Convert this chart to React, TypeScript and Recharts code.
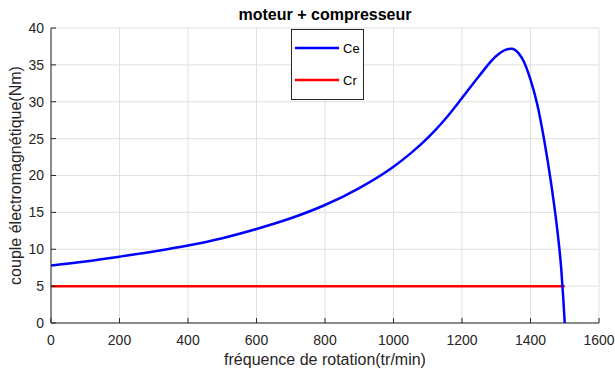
import { LineChart, Line, XAxis, YAxis, CartesianGrid, Label } from 'recharts';

// vitesse (tr/min) et couple moteur Ce (Nm)
const speed = [0, 100, 200, 300, 400, 500, 600, 700, 800, 900, 1000, 1050, 1100, 1150, 1200, 1250, 1300, 1325, 1345, 1365, 1380, 1400, 1420, 1440, 1460, 1480, 1490, 1495, 1500];
const ce = [7.8, 8.35, 9.0, 9.7, 10.5, 11.5, 12.75, 14.2, 16.0, 18.3, 21.2, 23.0, 25.1, 27.6, 30.5, 33.5, 36.2, 37.0, 37.2, 36.6, 35.5, 33.0, 29.6, 24.8, 19.0, 11.9, 7.2, 3.8, 0];

// couple résistant du compresseur Cr (Nm)
const crSpeed = [0, 1500];
const cr = [5, 5];

const xTicks = [0, 200, 400, 600, 800, 1000, 1200, 1400, 1600];
const yTicks = [0, 5, 10, 15, 20, 25, 30, 35, 40];

const seriesNames = ['Ce', 'Cr'];
const seriesColors = ['#0000ff', '#ff0000'];

const ceData = speed.map((n, i) => ({ n, Ce: ce[i] }));
const crData = crSpeed.map((n, i) => ({ n, Cr: cr[i] }));

const FONT = '"Liberation Sans", Arial, Helvetica, sans-serif';
const INK = '#262626';

const NoTick = () => <g />;

const XLabel = ({ viewBox }: any) => (
  <text
    x={viewBox.x + viewBox.width / 2}
    y={viewBox.y + 42}
    textAnchor="middle"
    fontFamily={FONT}
    fontSize={16}
    fill={INK}
  >
    fréquence de rotation(tr/min)
  </text>
);

const YLabel = ({ viewBox }: any) => {
  const cx = viewBox.x + 21;
  const cy = viewBox.y + viewBox.height / 2;
  return (
    <text
      x={cx}
      y={cy}
      transform={`rotate(-90, ${cx}, ${cy})`}
      textAnchor="middle"
      fontFamily={FONT}
      fontSize={16}
      fill={INK}
    >
      couple électromagnétique(Nm)
    </text>
  );
};

const LegendBox = () => (
  <div
    style={{
      position: 'absolute',
      left: 291,
      top: 29,
      width: 71,
      height: 69,
      border: `1px solid ${INK}`,
      background: '#fff',
    }}
  >
    <svg width={71} height={69} style={{ display: 'block' }}>
      {seriesNames.map((name, i) => (
        <g key={name}>
          <line x1={3} x2={47} y1={18 + i * 32} y2={18 + i * 32} stroke={seriesColors[i]} strokeWidth={2.5} />
          <text x={51} y={18 + i * 32 + 5} fontFamily={FONT} fontSize={13} fill="#000">
            {name}
          </text>
        </g>
      ))}
    </svg>
  </div>
);

export default function App() {
  return (
    <div style={{ position: 'absolute', left: 0, top: 0, width: 615, height: 371, background: '#fff', fontFamily: FONT }}>
      <div
        style={{
          position: 'absolute',
          left: 51,
          width: 548,
          top: 7,
          textAlign: 'center',
          fontSize: 16,
          lineHeight: '16px',
          fontWeight: 'bold',
          color: '#000',
        }}
      >
        moteur + compresseur
      </div>
      <LineChart width={615} height={371} margin={{ top: 28, right: 16, bottom: 0, left: 0 }}>
        <CartesianGrid xAxisId="b" yAxisId="l" stroke="#dfdfdf" strokeWidth={1} />
        <XAxis
          xAxisId="b"
          dataKey="n"
          type="number"
          domain={[0, 1600]}
          ticks={xTicks}
          interval={0}
          height={48}
          tickSize={-5}
          tickMargin={17}
          stroke={INK}
          tick={{ fill: INK, fontSize: 14, fontFamily: FONT }}
          allowDataOverflow
        >
          <Label content={XLabel} />
        </XAxis>
        <XAxis
          xAxisId="t"
          orientation="top"
          dataKey="n"
          type="number"
          domain={[0, 1600]}
          ticks={xTicks}
          interval={0}
          height={0}
          tickSize={-5}
          tick={NoTick}
          stroke={INK}
          allowDataOverflow
        />
        <YAxis
          yAxisId="l"
          type="number"
          domain={[0, 40]}
          ticks={yTicks}
          interval={0}
          width={51}
          tickSize={-5}
          tickMargin={12}
          stroke={INK}
          tick={{ fill: INK, fontSize: 14, fontFamily: FONT }}
          allowDataOverflow
        >
          <Label content={YLabel} />
        </YAxis>
        <YAxis
          yAxisId="r"
          orientation="right"
          type="number"
          domain={[0, 40]}
          ticks={yTicks}
          interval={0}
          width={0}
          tickSize={-5}
          tick={NoTick}
          stroke={INK}
          allowDataOverflow
        />
        <Line
          xAxisId="b"
          yAxisId="l"
          data={crData}
          dataKey="Cr"
          type="linear"
          stroke={seriesColors[1]}
          strokeWidth={2.5}
          dot={false}
          isAnimationActive={false}
        />
        <Line
          xAxisId="b"
          yAxisId="l"
          data={ceData}
          dataKey="Ce"
          type="monotone"
          stroke={seriesColors[0]}
          strokeWidth={2.5}
          dot={false}
          isAnimationActive={false}
        />
      </LineChart>
      <LegendBox />
    </div>
  );
}
